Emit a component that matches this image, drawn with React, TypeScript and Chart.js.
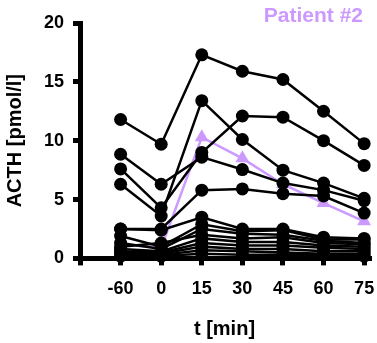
import React, { useEffect, useRef } from "react";
import { Chart, registerables } from "chart.js";

Chart.register(...registerables);

const categories = ["-60", "0", "15", "30", "45", "60", "75"];

const blackSeries: number[][] = [
  [11.8, 9.7, 17.3, 15.9, 15.2, 12.5, 9.75],
  [6.3, 3.6, 13.4, 10.1, 7.5, 6.4, 5.1],
  [7.6, 4.3, 9.0, 12.1, 12.0, 10.0, 7.9],
  [8.85, 6.3, 8.6, 7.55, 6.4, 5.8, 4.9],
  [2.5, 2.5, 5.8, 5.9, 5.5, 5.3, 3.85],
  [2.5, 2.4, 3.5, 2.5, 2.5, 1.8, 1.7],
  [1.9, 1.0, 2.9, 2.3, 2.4, 1.6, 1.6],
  [1.3, 0.8, 2.5, 2.1, 2.0, 1.5, 1.3],
  [1.0, 1.3, 2.0, 1.7, 1.8, 1.3, 1.2],
  [0.8, 0.6, 1.7, 1.4, 1.4, 1.1, 1.0],
  [0.6, 0.5, 1.3, 1.1, 1.1, 0.9, 0.8],
  [0.5, 0.4, 1.0, 0.8, 0.8, 0.6, 0.6],
  [0.4, 0.3, 0.7, 0.6, 0.5, 0.4, 0.4],
  [0.2, 0.2, 0.4, 0.3, 0.3, 0.3, 0.2],
];

const patient2: number[] = [1.2, 0.9, 10.3, 8.5, 6.3, 4.7, 3.15];

const yTicks = [0, 5, 10, 15, 20];

const PURPLE = "rgb(204,153,255)";
const FONT = "'Liberation Sans', Arial, sans-serif";

export default function App() {
  const ref = useRef<HTMLCanvasElement | null>(null);

  useEffect(() => {
    document.body.style.margin = "0";
    const canvas = ref.current;
    if (!canvas) return;

    const toPoints = (arr: number[]) => arr.map((v, i) => ({ x: i, y: v }));

    const datasets: any[] = blackSeries.map((s) => ({
      data: toPoints(s),
      borderColor: "#000",
      backgroundColor: "#000",
      borderWidth: 2.5,
      pointStyle: "circle",
      pointRadius: 6.5,
      pointBackgroundColor: "#000",
      pointBorderColor: "#000",
      pointBorderWidth: 0,
      clip: false,
    }));
    datasets.push({
      data: toPoints(patient2),
      borderColor: PURPLE,
      backgroundColor: PURPLE,
      borderWidth: 2.5,
      pointStyle: "triangle",
      pointRadius: 8,
      pointBackgroundColor: PURPLE,
      pointBorderColor: PURPLE,
      pointBorderWidth: 0,
      clip: false,
    });

    const titlePlugin = {
      id: "patientTitle",
      afterDraw(chart: any) {
        const { ctx, chartArea } = chart;
        ctx.save();
        ctx.font = `bold 21px ${FONT}`;
        ctx.fillStyle = PURPLE;
        ctx.textAlign = "right";
        ctx.textBaseline = "middle";
        ctx.fillText("Patient #2", chartArea.right - 6, chartArea.top - 7);
        ctx.restore();
      },
    };

    const chart = new Chart(canvas, {
      type: "line",
      data: { datasets },
      options: {
        animation: false,
        responsive: false,
        maintainAspectRatio: false,
        layout: { padding: { top: 23, right: 0, left: 3, bottom: 2 } },
        plugins: {
          legend: { display: false },
          tooltip: { enabled: false },
          title: { display: false },
        },
        scales: {
          x: {
            type: "linear",
            min: -1,
            max: 6.12,
            afterBuildTicks: (axis: any) => {
              axis.ticks = [-1, 0, 1, 2, 3, 4, 5, 6].map((v) => ({ value: v }));
            },
            afterFit: (axis: any) => {
              axis.paddingLeft = 0;
              axis.paddingRight = 0;
            },
            border: { display: true, width: 5, color: "#000" },
            grid: {
              drawOnChartArea: false,
              color: "#000",
              lineWidth: 5,
              tickLength: 7,
            },
            ticks: {
              color: "#000",
              padding: 13,
              font: { family: FONT, size: 18, weight: "bold" },
              maxRotation: 0,
              autoSkip: false,
              callback: (value: any) => {
                const i = Number(value);
                return i >= 0 && i < categories.length ? categories[i] : "";
              },
            },
            title: {
              display: true,
              text: "t [min]",
              color: "#000",
              font: { family: FONT, size: 20, weight: "bold" },
              padding: { top: 4, bottom: 0 },
            },
          },
          y: {
            type: "linear",
            min: 0,
            max: 20,
            afterBuildTicks: (axis: any) => {
              axis.ticks = yTicks.map((v) => ({ value: v }));
            },
            border: { display: true, width: 5, color: "#000" },
            grid: {
              drawOnChartArea: false,
              color: "#000",
              lineWidth: 5,
              tickLength: 7,
            },
            ticks: {
              color: "#000",
              padding: 9,
              font: { family: FONT, size: 18, weight: "bold" },
            },
            title: {
              display: true,
              text: "ACTH [pmol/l]",
              color: "#000",
              font: { family: FONT, size: 20, weight: "bold" },
              padding: { top: 0, bottom: 8 },
            },
          },
        },
      },
      plugins: [titlePlugin],
    });

    return () => chart.destroy();
  }, []);

  return (
    <div style={{ width: 377, height: 343 }}>
      <canvas ref={ref} width={377} height={343} style={{ display: "block" }} />
    </div>
  );
}
